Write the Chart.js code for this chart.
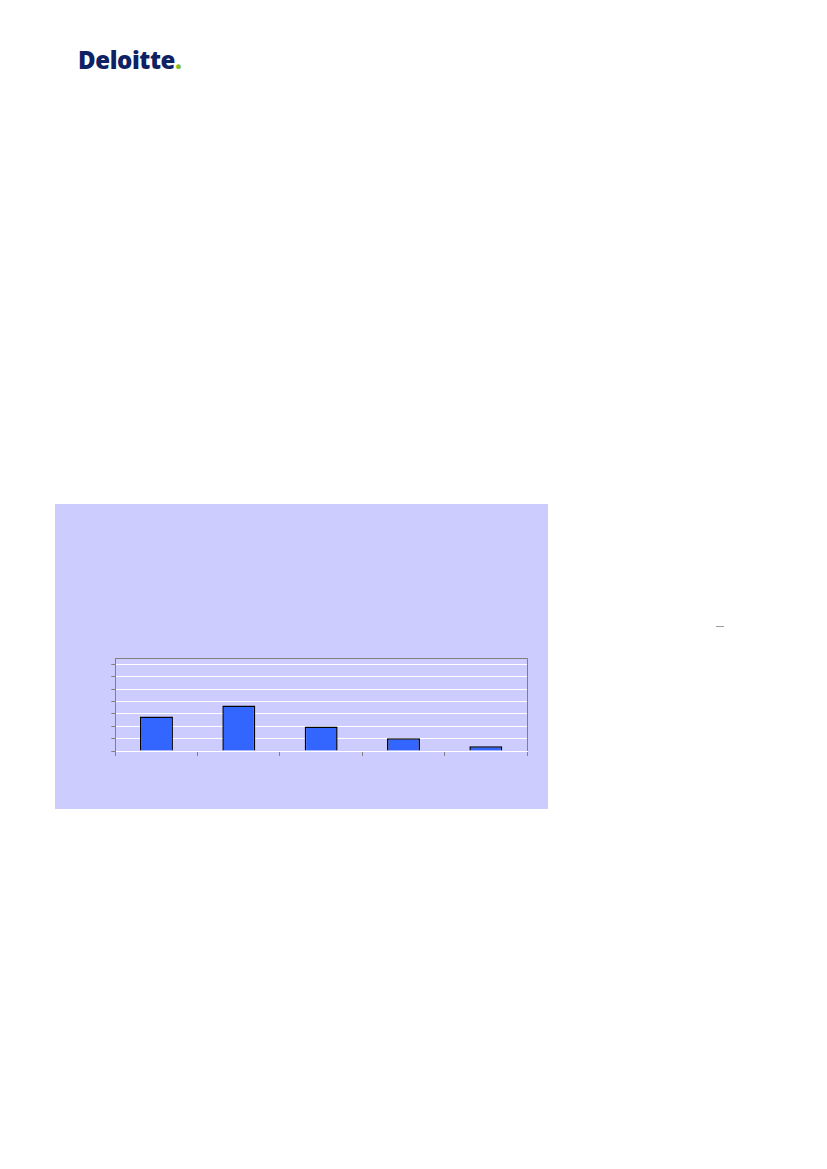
<!DOCTYPE html>
<html>
<head>
<meta charset="utf-8">
<script src="https://cdn.jsdelivr.net/npm/chart.js"></script>
<style>
  html, body { margin: 0; padding: 0; background: #fff; }
  body { width: 827px; height: 1169px; position: relative; overflow: hidden; }
  .logo { position: absolute; left: 78px; top: 43px; font-family: "Open Sans", sans-serif;
          font-weight: 800; font-size: 24px; color: #0e2163; letter-spacing: -0.4px; }
  .logo span { color: #86bc25; }
  .panel { position: absolute; left: 55px; top: 504px; width: 493px; height: 305px; background: #ccccff; }
  .wrap { position: absolute; left: 105px; top: 650px; width: 430px; height: 110px; }
  .dash { position: absolute; left: 716px; top: 626px; width: 8px; height: 1px; background: #999; }
</style>
</head>
<body>
<div class="logo">Deloitte<span>.</span></div>
<div class="panel"></div>
<div class="dash"></div>
<div class="wrap"><canvas id="myChart"></canvas></div>
<script>
var categories = ['1', '2', '3', '4', '5'];
var values = [2.79, 3.67, 1.98, 1.02, 0.38];
var yTicks = [0, 1, 2, 3, 4, 5, 6, 7];

var frame = {
  id: 'frame',
  afterDraw: function(chart) {
    var a = chart.chartArea, c = chart.ctx;
    c.save();
    c.strokeStyle = '#808080';
    c.lineWidth = 1;
    c.beginPath();
    c.moveTo(a.left, a.top + 0.5);
    c.lineTo(a.right + 0.5, a.top + 0.5);
    c.lineTo(a.right + 0.5, a.bottom);
    c.stroke();
    c.restore();
  }
};

var ctx = document.getElementById('myChart').getContext('2d');
var myChart = new Chart(ctx, {
  type: 'bar',
  data: {
    labels: categories,
    datasets: [{
      data: values,
      backgroundColor: '#3366ff',
      borderColor: '#000000',
      borderWidth: 1.5,
      categoryPercentage: 1,
      barPercentage: 0.4
    }]
  },
  options: {
    responsive: true,
    maintainAspectRatio: false,
    animation: false,
    layout: { padding: { top: 8, right: 8, left: 0, bottom: 4 } },
    plugins: { legend: { display: false }, tooltip: { enabled: false } },
    scales: {
      x: {
        grid: { display: true, drawOnChartArea: false, offset: true, tickLength: 5, tickColor: '#808080' },
        border: { color: '#ffffff', width: 1 },
        ticks: { display: false },
        afterFit: function(s) { s.height = 5; }
      },
      y: {
        min: 0, max: 7.5,
        afterBuildTicks: function(s) { s.ticks = yTicks.map(function(v) { return { value: v }; }); },
        grid: { color: '#ffffff', lineWidth: 1, tickLength: 4, tickColor: '#808080' },
        border: { color: '#808080', width: 1 },
        ticks: { display: false },
        afterFit: function(s) { s.width = 10.3; }
      }
    }
  },
  plugins: [frame]
});
</script>
</body>
</html>
